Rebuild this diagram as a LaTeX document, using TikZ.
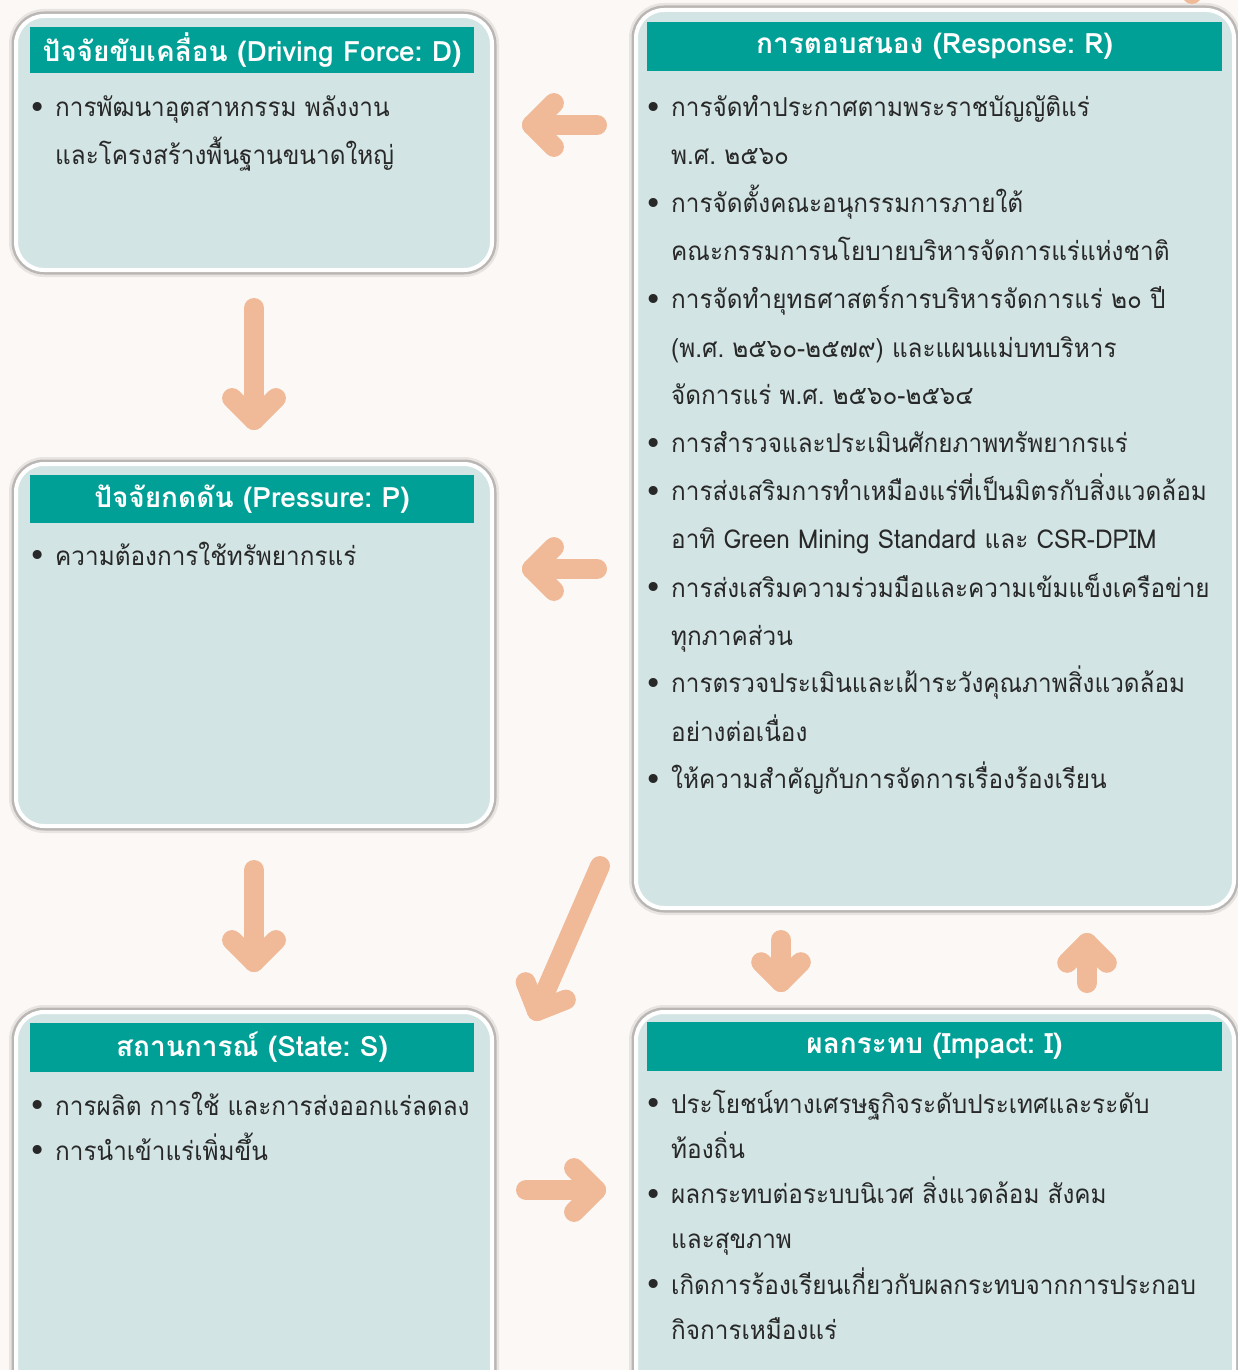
\documentclass[tikz,border=0pt]{standalone}
\usepackage{fontspec}
\setmainfont[Script=Thai, FakeStretch=0.935]{Loma}
\newfontfamily\headfont[Script=Thai]{Loma}
\newfontfamily\bulletfont{DejaVu Sans}
\usetikzlibrary{calc}
\definecolor{bgc}{RGB}{252,248,245}
\definecolor{boxfill}{RGB}{210,229,228}
\definecolor{headfill}{RGB}{0,160,150}
\definecolor{arrowc}{RGB}{240,186,152}
\definecolor{bodytext}{RGB}{40,40,40}
\newcommand\bul{\makebox[27pt][l]{\raisebox{-1.5pt}{\bulletfont\fontsize{31}{31}\selectfont •}}}
\newcommand\cont{\hspace*{27pt}}
\newcommand\bodytxt[3]{\parbox[t]{#1}{\raggedright\frenchspacing\fontsize{26}{#2}\selectfont #3}}
\begin{document}
\begin{tikzpicture}[x=1pt,y=-1pt,
  panel/.style={draw=white, line width=4pt, fill=boxfill, rounded corners=28pt,
    anchor=north west, inner sep=0pt, outer sep=0pt,
    preaction={draw=black, line width=14pt, draw opacity=0.08},
    preaction={draw=black, line width=9pt, draw opacity=0.20}},
  head/.style={fill=headfill, anchor=north west, inner sep=0pt, outer sep=0pt,
    text=white, font=\headfont\bfseries\frenchspacing\fontsize{28}{30}\selectfont},
  body/.style={anchor=base west, inner sep=0pt, text=bodytext},
  shaft/.style={draw=arrowc, line width=20pt, line cap=round, line join=round},
]
\useasboundingbox (0,0) rectangle (1238,1370);
\clip (0,0) rectangle (1238,1370);
\fill[bgc] (0,0) rectangle (1238,1370);

% panels
\node[panel, minimum width=476pt, minimum height=254pt] (D) at (16,16) {};
\node[panel, minimum width=476pt, minimum height=362pt] (P) at (16,464) {};
\node[panel, minimum width=476pt, minimum height=400pt] (S) at (16,1012) {};
\node[panel, minimum width=598pt, minimum height=898pt] (R) at (636,10) {};
\node[panel, minimum width=598pt, minimum height=400pt] (I) at (636,1012) {};

% headers
\node[head, minimum width=444pt, minimum height=46pt] (Dh) at (30,27) {ปัจจัยขับเคลื่อน (Driving Force: D)};
\node[head, minimum width=444pt, minimum height=48pt] (Ph) at (30,475) {ปัจจัยกดดัน (Pressure: P)};
\node[head, minimum width=444pt, minimum height=49pt] (Sh) at (30,1023) {สถานการณ์ (State: S)};
\node[head, minimum width=575pt, minimum height=49pt] (Rh) at (647,22) {การตอบสนอง (Response: R)};
\node[head, minimum width=575pt, minimum height=49pt] (Ih) at (647,1022) {ผลกระทบ (Impact: I)};

% bodies
\node[body] (Db) at (28,117) {\bodytxt{600pt}{48}{%
\bul การพัฒนาอุตสาหกรรม พลังงาน\\
\cont และโครงสร้างพื้นฐานขนาดใหญ่}};
\node[body] (Pb) at (28,565) {\bodytxt{600pt}{48}{%
\bul ความต้องการใช้ทรัพยากรแร่}};
\node[body] (Sb) at (28,1115) {\bodytxt{600pt}{45}{%
\bul การผลิต การใช้ และการส่งออกแร่ลดลง\\
\bul การนำเข้าแร่เพิ่มขึ้น}};
\node[body] (Rb) at (644,117) {\bodytxt{700pt}{48}{%
\bul การจัดทำประกาศตามพระราชบัญญัติแร่\\
\cont พ.ศ. ๒๕๖๐\\
\bul การจัดตั้งคณะอนุกรรมการภายใต้\\
\cont คณะกรรมการนโยบายบริหารจัดการแร่แห่งชาติ\\
\bul การจัดทำยุทธศาสตร์การบริหารจัดการแร่ ๒๐ ปี\\
\cont (พ.ศ. ๒๕๖๐-๒๕๗๙) และแผนแม่บทบริหาร\\
\cont จัดการแร่ พ.ศ. ๒๕๖๐-๒๕๖๔\\
\bul การสำรวจและประเมินศักยภาพทรัพยากรแร่\\
\bul การส่งเสริมการทำเหมืองแร่ที่เป็นมิตรกับสิ่งแวดล้อม\\
\cont อาทิ Green Mining Standard และ CSR-DPIM\\
\bul การส่งเสริมความร่วมมือและความเข้มแข็งเครือข่าย\\
\cont ทุกภาคส่วน\\
\bul การตรวจประเมินและเฝ้าระวังคุณภาพสิ่งแวดล้อม\\
\cont อย่างต่อเนื่อง\\
\bul ให้ความสำคัญกับการจัดการเรื่องร้องเรียน}};
\node[body] (Ib) at (644,1113) {\bodytxt{700pt}{45.3}{%
\bul ประโยชน์ทางเศรษฐกิจระดับประเทศและระดับ\\
\cont ท้องถิ่น\\
\bul ผลกระทบต่อระบบนิเวศ สิ่งแวดล้อม สังคม\\
\cont และสุขภาพ\\
\bul เกิดการร้องเรียนเกี่ยวกับผลกระทบจากการประกอบ\\
\cont กิจการเหมืองแร่}};

% arrows
\newcommand\bigarrow[3]{%
  \draw[shaft] (#1) -- (#2);
  \draw[shaft] ($(#2)!#3!45:(#1)$) -- (#2) -- ($(#2)!#3!-45:(#1)$);}
\coordinate (a1t) at (597,125);  \coordinate (a1h) at (532,125);
\coordinate (a2t) at (597,569);  \coordinate (a2h) at (532,569);
\coordinate (a3t) at (254,308);  \coordinate (a3h) at (254,420);
\coordinate (a4t) at (254,870);  \coordinate (a4h) at (254,962);
\coordinate (a5t) at (600,866);  \coordinate (a5h) at (537,1011);
\coordinate (a6t) at (526,1190); \coordinate (a6h) at (596,1190);
\coordinate (a7t) at (781,940);  \coordinate (a7h) at (781,982);
\coordinate (a8t) at (1087,983); \coordinate (a8h) at (1087,943);
\coordinate (a9t) at (1192,-40); \coordinate (a9h) at (1192,-6);
\bigarrow{a1t}{a1h}{31pt}
\bigarrow{a2t}{a2h}{31pt}
\bigarrow{a3t}{a3h}{31pt}
\bigarrow{a4t}{a4h}{31pt}
\bigarrow{a5t}{a5h}{31pt}
\bigarrow{a6t}{a6h}{31pt}
\bigarrow{a7t}{a7h}{28pt}
\bigarrow{a8t}{a8h}{28pt}
\draw[shaft] (a9t) -- (a9h);
\end{tikzpicture}
\end{document}
